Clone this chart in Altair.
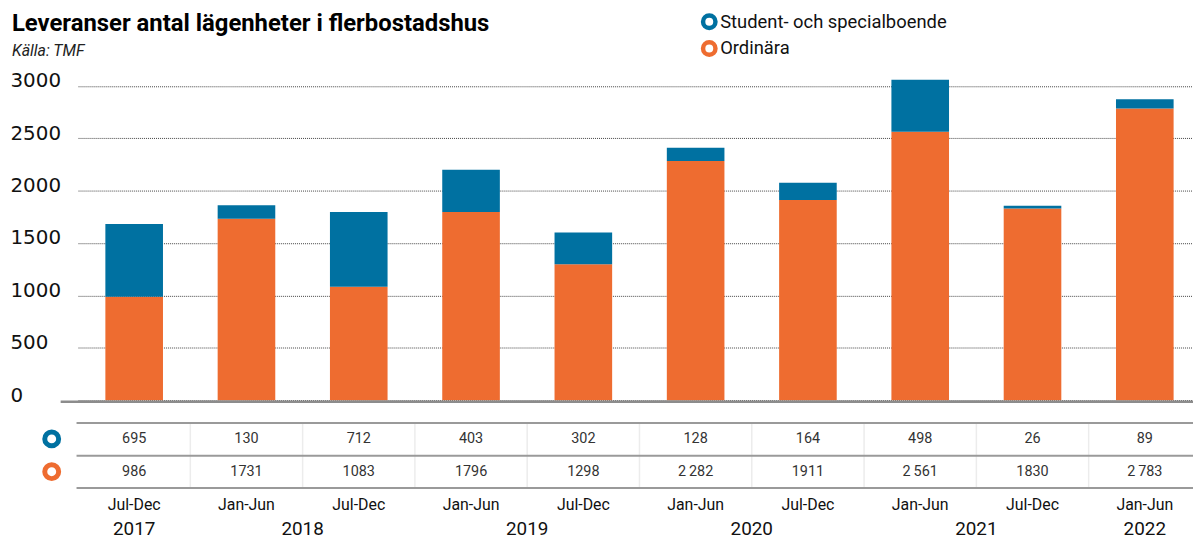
import altair as alt
import pandas as pd

# ---- data ----
periods = ["Jul-Dec", "Jan-Jun", "Jul-Dec", "Jan-Jun", "Jul-Dec",
           "Jan-Jun", "Jul-Dec", "Jan-Jun", "Jul-Dec", "Jan-Jun"]
period_years = [2017, 2018, 2018, 2019, 2019, 2020, 2020, 2021, 2021, 2022]
student = [695, 130, 712, 403, 302, 128, 164, 498, 26, 89]
ordinara = [986, 1731, 1083, 1796, 1298, 2282, 1911, 2561, 1830, 2783]
student_text = ["695", "130", "712", "403", "302", "128", "164", "498", "26", "89"]
ordinara_text = ["986", "1731", "1083", "1796", "1298", "2\u2009282", "1911",
                 "2\u2009561", "1830", "2\u2009783"]
series_names = ["Student- och specialboende", "Ordinära"]
series_colors = ["#0071a1", "#ee6c30"]
y_ticks = [0, 500, 1000, 1500, 2000, 2500, 3000]

idx = list(range(len(periods)))
bars = pd.DataFrame({
    "idx": idx * 2,
    "series": [series_names[1]] * len(idx) + [series_names[0]] * len(idx),
    "value": ordinara + student,
    "order": [0] * len(idx) + [1] * len(idx),
})
table = pd.DataFrame({"idx": idx, "period": periods, "year": period_years,
                      "s_txt": student_text, "o_txt": ordinara_text})
years = table.groupby("year", as_index=False)["idx"].mean()
years["label"] = years["year"].astype(str)
seps = pd.DataFrame({"pos": [i + 0.5 for i in idx[:-1]]})
legend_df = pd.DataFrame({"series": series_names, "row": [0, 1]})
one = pd.DataFrame({"a": [0]})

FONT = "Roboto"
W, H = 1129, 327
xscale = alt.Scale(domain=[-0.5, 9.5], range=[6.5, 1137], nice=False, zero=False,
                   padding=0)
cscale = alt.Scale(domain=series_names, range=series_colors)

base_x = alt.X("idx:Q", scale=xscale, axis=None)

bar_layer = alt.Chart(bars).mark_bar(size=58).encode(
    x=base_x,
    y=alt.Y("value:Q", stack="zero",
            scale=alt.Scale(domain=[0, 3100], nice=False, padding=0),
            axis=alt.Axis(values=y_ticks, format="d", title=None, domain=False,
                          ticks=False, tickSize=0, labelAlign="left", labelPadding=62,
                          labelFont="DejaVu Sans", labelFontSize=20,
                          labelColor="#111", labelOffset=-5,
                          gridDash=[1, 1], gridColor="#444", gridWidth=1)),
    color=alt.Color("series:N", scale=cscale, legend=None),
    order=alt.Order("order:Q"),
)

baseline = alt.Chart(one).mark_rule(color="#8c8c8c", strokeWidth=2.5).encode(
    x=alt.value(-11), x2=alt.value(W), y=alt.value(328.5))

table_lines = alt.Chart(pd.DataFrame({"yy": [350, 383, 415.5]})).mark_rule(
    color="#9a9a9a", strokeWidth=2).encode(
    x=alt.value(5), x2=alt.value(W), y=alt.Y("yy:Q", scale=None))

sep_lines = alt.Chart(seps).mark_rule(color="#ececec", strokeWidth=1.5).encode(
    x=alt.X("pos:Q", scale=xscale, axis=None), y=alt.value(351), y2=alt.value(414.5))

s_text = alt.Chart(table).mark_text(font=FONT, fontSize=14.5, color="#333",
                                    baseline="middle").encode(
    x=base_x, y=alt.value(366), text="s_txt:N")
o_text = alt.Chart(table).mark_text(font=FONT, fontSize=14.5, color="#333",
                                    baseline="middle").encode(
    x=base_x, y=alt.value(399), text="o_txt:N")
p_text = alt.Chart(table).mark_text(font=FONT, fontSize=16, color="#111",
                                    baseline="middle").encode(
    x=base_x, y=alt.value(432.5), text="period:N")
y_text = alt.Chart(years).mark_text(font=FONT, fontSize=19, color="#111",
                                    baseline="bottom").encode(
    x=alt.X("idx:Q", scale=xscale, axis=None), y=alt.value(467), text="label:N")

table_markers = alt.Chart(legend_df).mark_point(
    shape="circle", filled=False, strokeWidth=5, size=196, opacity=1).encode(
    x=alt.value(-20),
    y=alt.Y("row:Q", scale=alt.Scale(domain=[0, 1], range=[366, 399]), axis=None),
    color=alt.Color("series:N", scale=cscale, legend=None))

legend_markers = alt.Chart(legend_df).mark_point(
    shape="circle", filled=False, strokeWidth=4.5, size=156, opacity=1).encode(
    x=alt.value(642),
    y=alt.Y("row:Q", scale=alt.Scale(domain=[0, 1], range=[-54, -27]), axis=None),
    color=alt.Color("series:N", scale=cscale, legend=None))

legend_text = alt.Chart(legend_df).mark_text(
    font=FONT, fontSize=18.5, color="#111", align="left", baseline="middle").encode(
    x=alt.value(653),
    y=alt.Y("row:Q", scale=alt.Scale(domain=[0, 1], range=[-54, -27]), axis=None),
    text="series:N")

title = alt.Chart(one).mark_text(
    text="Leveranser antal lägenheter i flerbostadshus", font=FONT, fontSize=24,
    fontWeight="bold", color="#000", align="left", baseline="alphabetic").encode(
    x=alt.value(-60), y=alt.value(-45))
subtitle = alt.Chart(one).mark_text(
    text="Källa: TMF", font=FONT, fontSize=16, fontStyle="italic", color="#222",
    align="left", baseline="alphabetic").encode(
    x=alt.value(-60), y=alt.value(-19))

chart = alt.layer(
    bar_layer, baseline, sep_lines, table_lines, s_text, o_text, p_text, y_text,
    table_markers, legend_markers, legend_text, title, subtitle,
).resolve_scale(y="independent", x="shared").properties(
    width=W, height=H,
    padding={"left": 64, "top": 66, "right": 0, "bottom": 142},
    autosize=alt.AutoSizeParams(type="none"),
).configure_view(stroke=None)

chart.save("out.html", embed_options={"renderer": "svg", "actions": False})
